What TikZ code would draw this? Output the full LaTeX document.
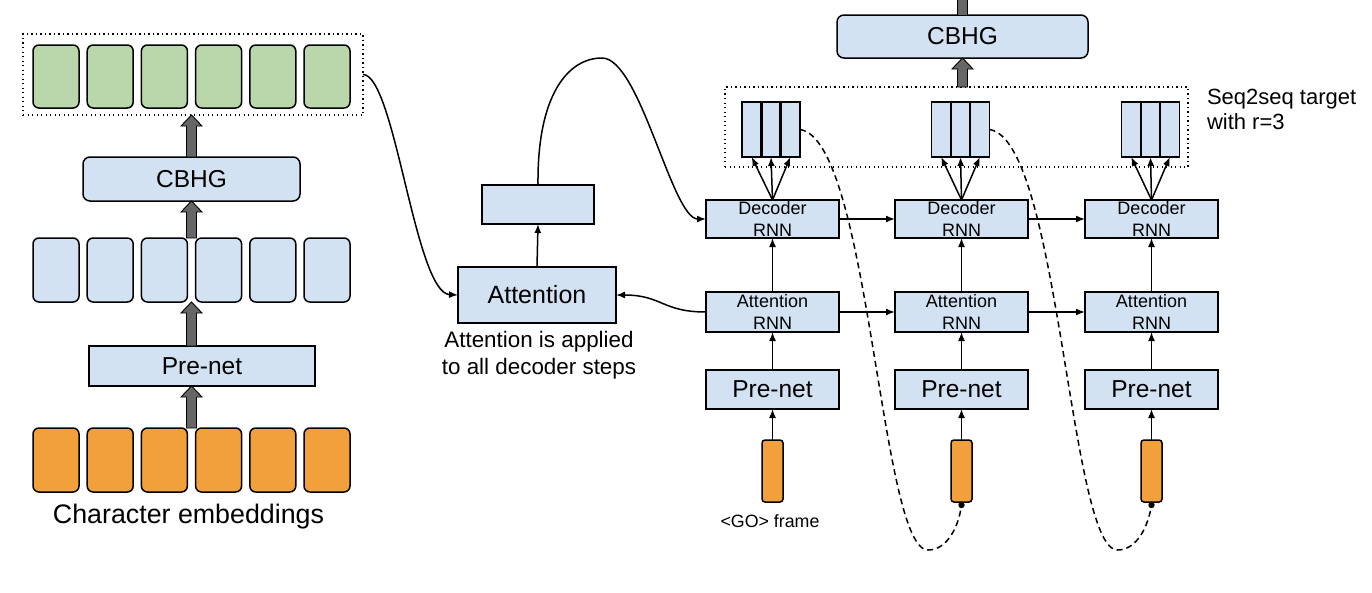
\documentclass[tikz,border=0pt]{standalone}
\usepackage{fontspec}
\setmainfont{Liberation Sans}
\usetikzlibrary{arrows.meta,calc}
\definecolor{bfill}{HTML}{D3E2F2}
\definecolor{gfill}{HTML}{B9D7AA}
\definecolor{ofill}{HTML}{F1A03B}
\definecolor{fatgray}{HTML}{666666}
\newcommand\fatarrow[2]{%
  \path[fatarr] let \p1=#1, \p2=#2 in
   (\x1-5pt,\y1) -- (\x1-5pt,\y2-11pt) -- (\x1-10.5pt,\y2-11pt) -- (\x1,\y2)
   -- (\x1+10.5pt,\y2-11pt) -- (\x1+5pt,\y2-11pt) -- (\x1+5pt,\y1) -- cycle;}
\tikzset{
  every node/.style={inner sep=0pt,outer sep=0pt},
  rowbox/.style={draw,line width=1.5pt,rounded corners=6pt,minimum width=46pt,minimum height=64pt},
  gbox/.style={rowbox,fill=gfill,minimum height=63pt},
  bbox/.style={rowbox,fill=bfill},
  obox/.style={rowbox,fill=ofill},
  plainbox/.style={draw,line width=1.5pt,fill=bfill},
  rbox/.style={plainbox,minimum width=133pt,align=center,font=\fontsize{18}{22.5}\selectfont},
  frm/.style={draw,line width=1.2pt,fill=bfill,minimum width=19.33pt,minimum height=55pt},
  smallo/.style={draw,line width=1.5pt,fill=ofill,rounded corners=3pt,minimum width=21pt,minimum height=62pt},
  dotbox/.style={draw,line width=1.3pt,dash pattern=on 1.3pt off 3.2pt},
  fatarr/.style={draw=black,line width=0.9pt,fill=fatgray},
  conn/.style={line width=1.5pt,-{Latex[length=9pt,width=7pt]}},
  dashconn/.style={line width=1.5pt,dash pattern=on 6pt off 4pt},
}
\begin{document}
\begin{tikzpicture}[x=1pt,y=-1pt]
\useasboundingbox (0,0) rectangle (1372,592);
% ---------- left encoder ----------
\node[dotbox,minimum width=340pt,minimum height=81pt] (gbx) at (193,74.5) {};
\foreach \i/\x in {1/56,2/110.2,3/164.4,4/218.6,5/272.8,6/327}{
  \node[gbox] (g\i) at (\x,76.5) {};
  \node[bbox] (b\i) at (\x,270) {};
  \node[obox] (o\i) at (\x,460) {};
}
\node[plainbox,rounded corners=7pt,minimum width=217pt,minimum height=44pt,font=\fontsize{24.5}{29}\selectfont] (cbhgL) at (191.5,179) {CBHG};
\node[plainbox,minimum width=226pt,minimum height=40pt,font=\fontsize{24.5}{29}\selectfont] (preL) at (202,366) {Pre-net};
\node[anchor=base,font=\fontsize{26.8}{31}\selectfont] (chemb) at (188.5,523) {Character embeddings};
\fatarrow{(cbhgL.north)}{(cbhgL.north |- gbx.south)}
\fatarrow{(cbhgL.south |- b3.north)}{(cbhgL.south)}
\fatarrow{(cbhgL.south |- preL.north)}{(cbhgL.south |- b3.south)}
\fatarrow{(cbhgL.south |- o3.north)}{(cbhgL.south |- preL.south)}
% ---------- attention ----------
\node[plainbox,minimum width=158pt,minimum height=56pt,font=\fontsize{25}{30}\selectfont] (attn) at (537,295) {Attention};
\node[plainbox,minimum width=112pt,minimum height=39pt] (ctx) at (538,204.5) {};
\node[anchor=north,align=center,font=\fontsize{22.4}{26.5}\selectfont] (cap) at (539,331.5) {Attention is applied\\to all decoder steps};
% ---------- decoder ----------
\foreach \i/\x in {1/772.5,2/961.5,3/1151.5}{
  \node[rbox,minimum height=38pt] (dec\i) at (\x,219) {Decoder\\RNN};
  \node[rbox,minimum height=40pt] (att\i) at (\x,312) {Attention\\RNN};
  \node[plainbox,minimum width=133pt,minimum height=39pt,font=\fontsize{24.5}{29}\selectfont] (pre\i) at (\x,389.5) {Pre-net};
  \node[smallo] (so\i) at (\x,471) {};
  \draw[conn] (so\i.north) -- (pre\i.south);
  \draw[conn] (pre\i.north) -- (att\i.south);
  \draw[conn] (att\i.north) -- (dec\i.south);
}
\node[dotbox,minimum width=463pt,minimum height=80pt] (fbx) at (956.5,127) {};
\foreach \i/\x in {1/771,2/960.5,3/1150.5}{
  \node[frm] (f\i a) at (\x-19.33,129.5) {};
  \node[frm] (f\i b) at (\x,129.5) {};
  \node[frm] (f\i c) at (\x+19.33,129.5) {};
  \draw[line width=2.6pt] (f\i a.north east) -- (f\i a.south east);
  \draw[line width=2.6pt] (f\i b.north east) -- (f\i b.south east);
  \draw[conn] (dec\i.north) -- (f\i a.south);
  \draw[conn] (dec\i.north) -- (f\i b.south);
  \draw[conn] (dec\i.north) -- (f\i c.south);
}
\draw[conn] (dec1.east) -- (dec2.west);
\draw[conn] (dec2.east) -- (dec3.west);
\draw[conn] (att1.east) -- (att2.west);
\draw[conn] (att2.east) -- (att3.west);
\node[plainbox,rounded corners=7pt,minimum width=251pt,minimum height=43pt,font=\fontsize{24.5}{29}\selectfont] (cbhgR) at (962.5,36.5) {CBHG};
\fatarrow{(cbhgR.south |- fbx.north)}{(cbhgR.south)}
\path[fatarr] (cbhgR.north) ++(-5,0) rectangle ++(10,-18);
\node[anchor=base west,align=left,font=\fontsize{22}{25}\selectfont] (seqlbl) at (1207,129) {Seq2seq target\\with r=3};
\node[anchor=base,font=\fontsize{17.8}{21}\selectfont] (golbl) at (770,527) {<GO> frame};
% ---------- curved connectors ----------
\draw[conn] (gbx.east) .. controls (395,75) and (415,293) .. (attn.west);
\draw[conn] (attn.north) -- (ctx.south);
\draw[conn] (ctx.north) .. controls (537,95) and (568,58) .. (602,58)
   .. controls (640,58) and (672,219) .. (dec1.west);
\draw[conn] (att1.west) .. controls (662,312) and (662,295) .. (attn.east);
% dashed feedback
\coordinate (bot1) at (928,550);
\coordinate (bot2) at (1117.5,550);
\draw[dashconn] (f1c.east) .. controls (870,140) and (880,550) .. (bot1)
   .. controls (948,550) and (959,525) .. ($(so2.south)+(0,3)$);
\draw[dashconn] (f2c.east) .. controls (1059.5,140) and (1069.5,550) .. (bot2)
   .. controls (1137.5,550) and (1148.5,525) .. ($(so3.south)+(0,3)$);
\fill ($(so2.south)+(0,3)$) circle (3.2pt);
\fill ($(so3.south)+(0,3)$) circle (3.2pt);
\end{tikzpicture}
\end{document}
